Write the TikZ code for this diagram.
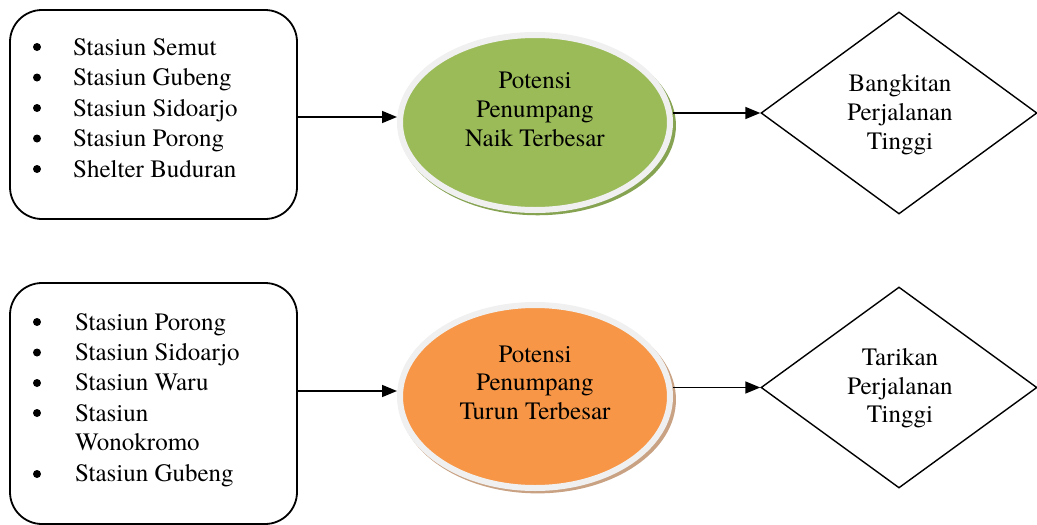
\documentclass[tikz,border=0pt]{standalone}
\usepackage{fontspec}
\setmainfont{TeX Gyre Termes}
\usetikzlibrary{shapes.geometric,arrows.meta,shadows}
\definecolor{gfill}{HTML}{9BBB59}
\definecolor{gshade}{HTML}{86A352}
\definecolor{ofill}{HTML}{F79646}
\definecolor{oshade}{HTML}{C9A283}
\definecolor{ring}{HTML}{F0F0F0}
\begin{document}
\begin{tikzpicture}[x=1pt,y=-1pt,
  txt/.style={font=\fontsize{25}{30}\selectfont, inner sep=0pt, anchor=base},
  item/.style={txt, anchor=base west},
  bul/.style={circle, fill=black, inner sep=0pt, minimum size=8pt},
  listbox/.style={draw, line width=1.8pt, rounded corners=32pt, inner sep=0pt, minimum width=287pt},
  blob/.style={ellipse, draw=ring, line width=6pt, inner sep=0pt, minimum width=270pt},
  dia/.style={diamond, draw, line width=1.4pt, inner sep=0pt, minimum width=276pt},
  arr/.style={line width=1.6pt, -{Triangle[length=15pt,width=12pt]}}
]
\useasboundingbox (0,0) rectangle (1037,525);
% list boxes
\node[listbox, minimum height=209pt] (b1) at (153.5,114.5) {};
\node[listbox, minimum height=241pt] (b2) at (153.5,403.5) {};
% ellipses
\node[blob, fill=gfill, minimum height=175pt,
  drop shadow={shadow xshift=2.5pt, shadow yshift=-3pt, shadow scale=1.025, fill=gshade, opacity=1}] (e1) at (535,122.5) {};
\node[blob, fill=ofill, minimum height=183pt,
  drop shadow={shadow xshift=2.5pt, shadow yshift=-3pt, shadow scale=1.025, fill=oshade, opacity=1}] (e2) at (535,396.5) {};
% diamonds
\node[dia, minimum height=202pt] (d1) at (899,113) {};
\node[dia, minimum height=201pt] (d2) at (899,387.5) {};
% box 1 items
\foreach \t/\y [count=\i] in {Stasiun Semut/55, Stasiun Gubeng/85.5, Stasiun Sidoarjo/116, Stasiun Porong/146.5, Shelter Buduran/177}
  \node[item] (ta\i) at (73,\y) {\t};
\foreach \y [count=\i] in {47,77.5,108,138.5,169}
  \node[bul] (da\i) at (37,\y) {};
% box 2 items
\foreach \t/\y [count=\i] in {Stasiun Porong/330, Stasiun Sidoarjo/360, Stasiun Waru/390, Stasiun/421, Wonokromo/450.5, Stasiun Gubeng/481}
  \node[item] (tb\i) at (75,\y) {\t};
\foreach \y [count=\i] in {322,352.5,383,413,474}
  \node[bul] (db\i) at (37,\y) {};
% ellipse texts
\node[txt] (e1t1) at (535,88) {Potensi};
\node[txt] (e1t2) at (535,117) {Penumpang};
\node[txt] (e1t3) at (535,146) {Naik Terbesar};
\node[txt] (e2t1) at (535,362) {Potensi};
\node[txt] (e2t2) at (535,390.5) {Penumpang};
\node[txt] (e2t3) at (535,419) {Turun Terbesar};
% diamond texts
\node[txt] (d1t1) at (900,91) {Bangkitan};
\node[txt] (d1t2) at (900,120) {Perjalanan};
\node[txt] (d1t3) at (900,149) {Tinggi};
\node[txt] (d2t1) at (900,365) {Tarikan};
\node[txt] (d2t2) at (900,394) {Perjalanan};
\node[txt] (d2t3) at (900,422) {Tinggi};
% connectors
\coordinate (a1) at (b1.east |- 0,117);
\draw[arr] (a1) -- (a1 -| e1.west);
\draw[arr] (e1.east |- d1.west) -- (d1.west);
\coordinate (a2) at (b2.east |- 0,391);
\draw[arr] (a2) -- (a2 -| e2.west);
\draw[arr] (e2.east |- d2.west) -- (d2.west);
\end{tikzpicture}
\end{document}
